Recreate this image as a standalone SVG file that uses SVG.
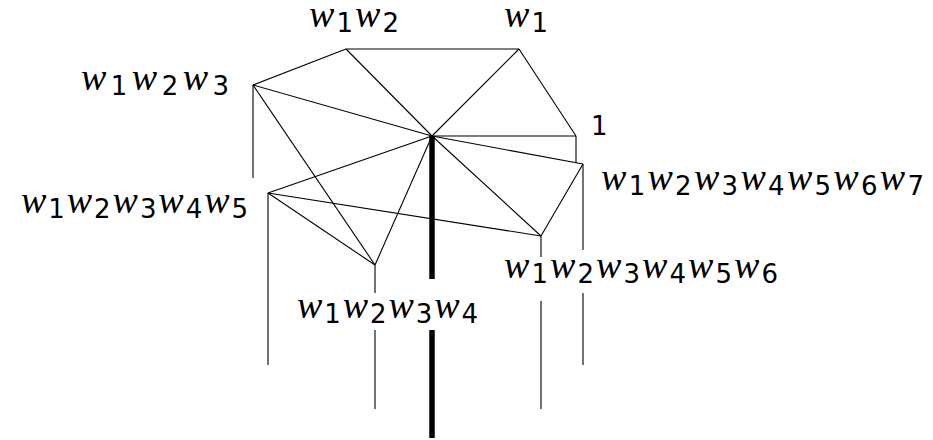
<svg xmlns="http://www.w3.org/2000/svg" width="933" height="440" viewBox="0 0 933 440">
<style>
.e{stroke:#000;stroke-width:1.1;fill:none;stroke-linecap:butt}
.v{stroke:#000;stroke-width:1.1;fill:none}
.t{stroke:#000;stroke-width:5.5;fill:none}
.lb{font-family:"Liberation Serif","DejaVu Serif",serif;font-style:italic;font-size:38px;fill:#000}
.s{font-family:"DejaVu Sans","Liberation Sans",sans-serif;font-style:normal;font-size:26px}
.one{font-family:"DejaVu Sans","Liberation Sans",sans-serif;font-size:26px;fill:#000}
</style>
<rect width="933" height="440" fill="#fff"/>
<g id="connectors">
<line class="e" x1="253" y1="85" x2="346" y2="49"/>
<line class="e" x1="346" y1="49" x2="519" y2="49"/>
<line class="e" x1="519" y1="49" x2="576" y2="136"/>
<line class="e" x1="346" y1="49" x2="432" y2="136"/>
<line class="e" x1="519" y1="49" x2="432" y2="136"/>
<line class="e" x1="253" y1="85" x2="432" y2="136"/>
<line class="e" x1="432" y1="136" x2="576" y2="136"/>
<line class="e" x1="253" y1="85" x2="375" y2="265"/>
<line class="e" x1="432" y1="136" x2="268" y2="193"/>
<line class="e" x1="432" y1="136" x2="375" y2="265"/>
<line class="e" x1="432" y1="136" x2="541" y2="236"/>
<line class="e" x1="432" y1="136" x2="583" y2="164"/>
<line class="e" x1="268" y1="193" x2="375" y2="265"/>
<line class="e" x1="268" y1="193" x2="541" y2="236"/>
<line class="e" x1="583" y1="164" x2="541" y2="236"/>
</g>
<g id="n_w1w2">
<text class="lb" x="309" y="27" textLength="90" lengthAdjust="spacing">w<tspan class="s" dy="5">1</tspan><tspan dy="-5">w</tspan><tspan class="s" dy="5">2</tspan></text>
</g>
<g id="n_w1">
<text class="lb" x="504" y="27" textLength="44" lengthAdjust="spacing">w<tspan class="s" dy="5">1</tspan></text>
</g>
<g id="n_w1w2w3">
<line class="v" x1="253" y1="85" x2="253" y2="178"/>
<text class="lb" x="81" y="90" textLength="148" lengthAdjust="spacing">w<tspan class="s" dy="5">1</tspan><tspan dy="-5">w</tspan><tspan class="s" dy="5">2</tspan><tspan dy="-5">w</tspan><tspan class="s" dy="5">3</tspan></text>
</g>
<g id="n_1">
<line class="v" x1="576" y1="136" x2="576" y2="163"/>
<text class="one" x="591" y="135">1</text>
</g>
<g id="n_center">
<line class="t" x1="432" y1="136" x2="432" y2="279"/>
<line class="t" x1="432" y1="330" x2="432" y2="438"/>
</g>
<g id="n_w1w2w3w4w5">
<line class="v" x1="268" y1="193" x2="268" y2="365"/>
<text class="lb" x="21" y="213" textLength="227" lengthAdjust="spacing">w<tspan class="s" dy="5">1</tspan><tspan dy="-5">w</tspan><tspan class="s" dy="5">2</tspan><tspan dy="-5">w</tspan><tspan class="s" dy="5">3</tspan><tspan dy="-5">w</tspan><tspan class="s" dy="5">4</tspan><tspan dy="-5">w</tspan><tspan class="s" dy="5">5</tspan></text>
</g>
<g id="n_w1w2w3w4">
<line class="v" x1="375" y1="265" x2="375" y2="293"/>
<line class="v" x1="375" y1="330" x2="375" y2="409"/>
<text class="lb" x="297" y="318" textLength="181" lengthAdjust="spacing">w<tspan class="s" dy="5">1</tspan><tspan dy="-5">w</tspan><tspan class="s" dy="5">2</tspan><tspan dy="-5">w</tspan><tspan class="s" dy="5">3</tspan><tspan dy="-5">w</tspan><tspan class="s" dy="5">4</tspan></text>
</g>
<g id="n_w1w2w3w4w5w6">
<line class="v" x1="541" y1="236" x2="541" y2="257"/>
<line class="v" x1="541" y1="301" x2="541" y2="409"/>
<text class="lb" x="504" y="278" textLength="274" lengthAdjust="spacing">w<tspan class="s" dy="5">1</tspan><tspan dy="-5">w</tspan><tspan class="s" dy="5">2</tspan><tspan dy="-5">w</tspan><tspan class="s" dy="5">3</tspan><tspan dy="-5">w</tspan><tspan class="s" dy="5">4</tspan><tspan dy="-5">w</tspan><tspan class="s" dy="5">5</tspan><tspan dy="-5">w</tspan><tspan class="s" dy="5">6</tspan></text>
</g>
<g id="n_w1w2w3w4w5w6w7">
<line class="v" x1="583" y1="164" x2="583" y2="250"/>
<line class="v" x1="583" y1="293" x2="583" y2="365"/>
<text class="lb" x="601" y="190" textLength="323" lengthAdjust="spacing">w<tspan class="s" dy="5">1</tspan><tspan dy="-5">w</tspan><tspan class="s" dy="5">2</tspan><tspan dy="-5">w</tspan><tspan class="s" dy="5">3</tspan><tspan dy="-5">w</tspan><tspan class="s" dy="5">4</tspan><tspan dy="-5">w</tspan><tspan class="s" dy="5">5</tspan><tspan dy="-5">w</tspan><tspan class="s" dy="5">6</tspan><tspan dy="-5">w</tspan><tspan class="s" dy="5">7</tspan></text>
</g>
</svg>
